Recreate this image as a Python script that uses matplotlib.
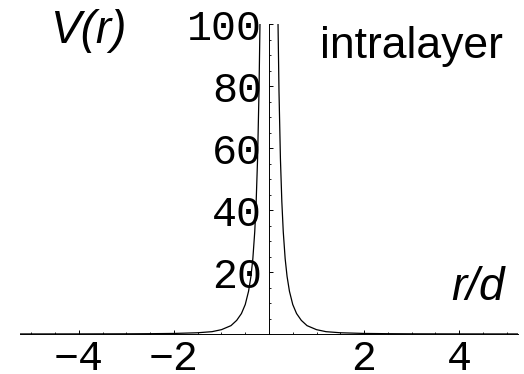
import numpy as np
import matplotlib
matplotlib.use("Agg")
import matplotlib.pyplot as plt
from matplotlib.ticker import FixedLocator, FixedFormatter, MultipleLocator

# |r/d| and V(r) (curve is symmetric about r = 0)
r_abs = [0.185, 0.19, 0.21, 0.24, 0.27, 0.30, 0.34, 0.38, 0.43, 0.50, 0.58,
         0.68, 0.80, 1.00, 1.20, 1.50, 2.00, 2.50, 3.00, 4.00, 5.30]
v_vals = [105.0, 100.0, 78.5, 56.7, 42.7, 33.0, 24.3, 18.6, 13.8, 9.5, 6.6,
          4.4, 2.7, 1.4, 0.75, 0.4, 0.18, 0.10, 0.06, 0.03, 0.015]

x_ticks = [-4, -2, 2, 4]
x_tick_labels = ["\u22124", "\u22122", "2", "4"]
y_ticks = [20, 40, 60, 80, 100]
y_tick_labels = ["20", "40", "60", "80", "100"]

r_abs = np.array(r_abs)
v_vals = np.array(v_vals)
x = np.concatenate([-r_abs[::-1], r_abs])
v = np.concatenate([v_vals[::-1], v_vals])

W, H = 524, 374
fig = plt.figure(figsize=(W / 100, H / 100), dpi=100)
ax = fig.add_axes([20 / W, 1 - 334 / H, 498 / W, 310 / H])

n = len(r_abs)
ax.plot(x[:n], v[:n], color="black", lw=0.9)
ax.plot(x[n:], v[n:], color="black", lw=0.9)

ax.set_xlim(-5.24, 5.24)
ax.set_ylim(0, 100)

for s in ["right", "top"]:
    ax.spines[s].set_visible(False)
ax.spines["left"].set_position(("data", 0))
ax.spines["bottom"].set_position(("data", 0))
for s in ["left", "bottom"]:
    ax.spines[s].set_linewidth(0.7)

ax.xaxis.set_major_locator(FixedLocator(x_ticks))
ax.xaxis.set_major_formatter(FixedFormatter(x_tick_labels))
ax.xaxis.set_minor_locator(MultipleLocator(0.5))
ax.yaxis.set_major_locator(FixedLocator(y_ticks))
ax.yaxis.set_major_formatter(FixedFormatter(y_tick_labels))
ax.yaxis.set_minor_locator(MultipleLocator(5))

mono = "Liberation Mono"
ax.tick_params(axis="both", which="major", direction="in", length=3.2, width=0.7)
ax.tick_params(axis="both", which="minor", direction="in", length=1.6, width=0.6)
ax.tick_params(axis="x", which="major", pad=3.5)
ax.tick_params(axis="y", which="major", pad=5)
for lab in ax.get_xticklabels() + ax.get_yticklabels():
    lab.set_fontfamily(mono)
    lab.set_fontsize(30)

sans = "Liberation Sans"
fig.text(50 / W, 1 - 43 / H, "V(r)", family=sans, style="italic", fontsize=33,
         ha="left", va="baseline")
fig.text(503 / W, 1 - 57.7 / H, "intralayer", family=sans, fontsize=32,
         ha="right", va="baseline")
fig.text(505 / W, 1 - 300 / H, "r/d", family=sans, style="italic", fontsize=33,
         ha="right", va="baseline")

fig.savefig("out.png", dpi=100)
